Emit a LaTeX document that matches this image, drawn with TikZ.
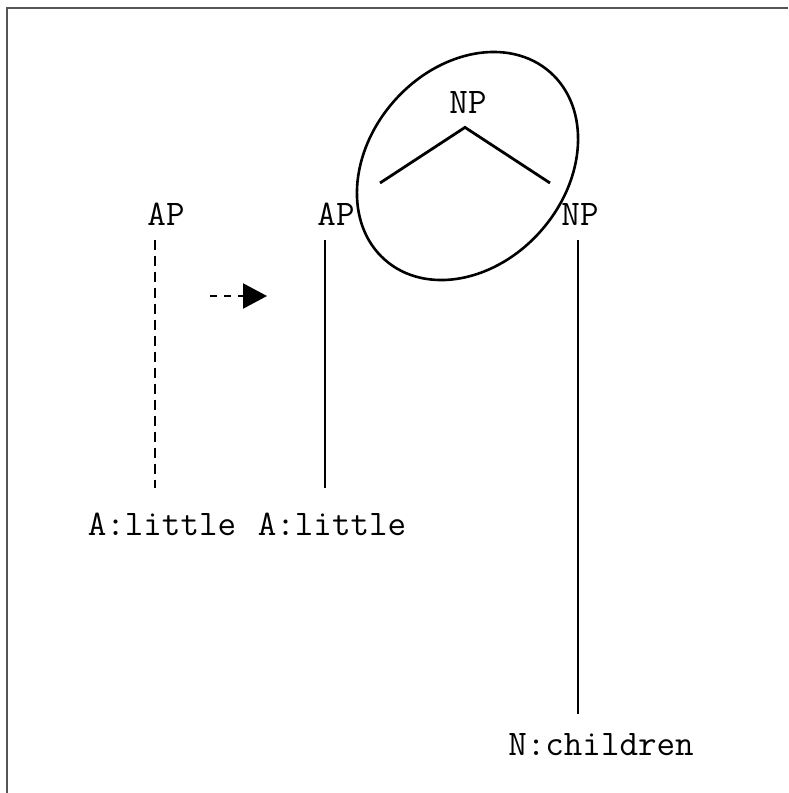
\documentclass[tikz,border=0pt]{standalone}
\usepackage{fontspec}
\usepackage{tikz}
\usetikzlibrary{arrows.meta,positioning,shapes.geometric,calc}
\definecolor{frameline}{HTML}{555555}

\begin{document}
\begin{tikzpicture}[
  x=0.5pt, y=-0.5pt,
  every node/.style={font=\ttfamily\fontsize{18}{21}\selectfont, inner sep=0pt},
  cat/.style={anchor=base},
  tie/.style={line width=1.1pt, shorten <=7.5pt, shorten >=12pt},
  branch/.style={line width=1.4pt},
  ring/.style={draw, ellipse, line width=1.3pt, inner sep=0pt},
]
\useasboundingbox (0, 0) rectangle (788, 793);

% Frame
\draw[frameline, line width=0.75pt] (788, 8) -- (7, 8) -- (7, 793);

% Left column
\node[cat] (apL) at (166, 225) {AP};
\node[cat] (litL) at (162, 535) {A:little};
\coordinate (footL) at ($(apL.south west)!0.2!(apL.south east)$);
\draw[tie, dash pattern=on 5pt off 3pt] (footL) -- (footL |- litL.north);

% Arrow
\coordinate (arrTail) at (210, 296);
\coordinate (arrTip) at (267, 296);
\draw[line width=1.1pt, dash pattern=on 3.5pt off 3.5pt, -{Triangle[length=12pt, width=12.5pt]}]
  (arrTail) -- (arrTip);

% Middle column
\node[cat] (apM) at (336, 225) {AP};
\node[cat] (litM) at (332, 535) {A:little};
\coordinate (footM) at ($(apM.south west)!0.2!(apM.south east)$);
\draw[tie] (footM) -- (footM |- litM.north);

% Adjoined tree
\node[cat] (npT) at (468, 113) {NP};
\coordinate (brL) at (380, 183);
\coordinate (brR) at (550, 183);
\draw[branch] (brL) -- ([xshift=-1.5pt, yshift=-7pt]npT.south) -- (brR);
\node[ring, rotate=48.7, minimum width=125pt, minimum height=98pt] (loop) at (467.5, 166) {};

% Right column
\node[cat] (npR) at (580, 225) {NP};
\node[cat] (child) at (601, 755) {N:children};
\draw[tie, shorten >=9.5pt] ([xshift=-1pt]npR.south) -- ([xshift=-1pt]npR.south |- child.north);

\end{tikzpicture}
\end{document}
